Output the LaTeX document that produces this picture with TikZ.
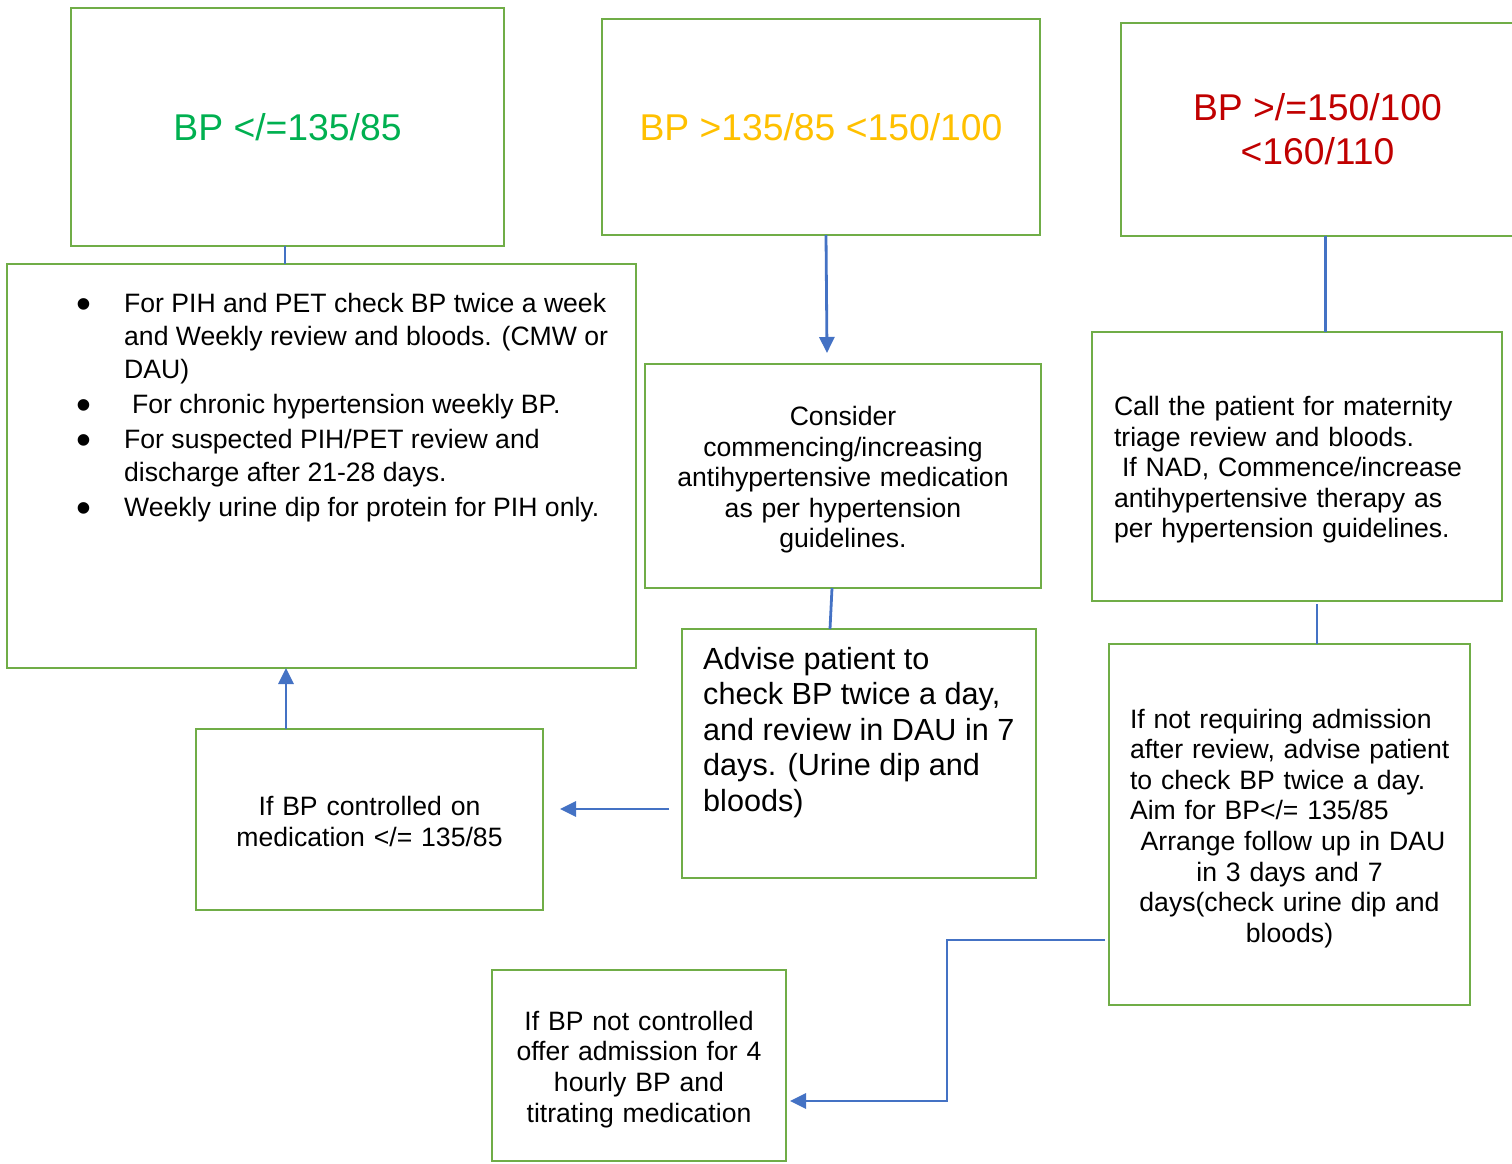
\documentclass[tikz,border=0pt]{standalone}
\usepackage{fontspec}
\usepackage{array}
\setmainfont{Liberation Sans}
\usetikzlibrary{arrows.meta,positioning}
\definecolor{boxgreen}{HTML}{70AD47}
\definecolor{linkblue}{HTML}{4472C4}
\definecolor{okgreen}{HTML}{00B050}
\definecolor{midamber}{HTML}{FFC000}
\definecolor{highred}{HTML}{C00000}
\tikzset{box/.style={draw=boxgreen, line width=2.8pt, inner sep=0pt, outer sep=0pt},
  link/.style={draw=linkblue, line width=2.8pt},
  arrowed/.style={-{Triangle[length=16pt,width=15pt]}},
  title/.style={font=\fontsize{37.3}{44}\selectfont, align=center},
  body/.style={font=\fontsize{26.6}{30.6}\selectfont},
  nudge/.style={execute at begin node={\rule{0pt}{#1}}}}
\newcommand{\bpdot}{\smash{\raisebox{-5.5pt}{\scalebox{1.6}{\textbullet}}}}
\newcommand{\fupline}[1]{\makebox[319pt][l]{#1}}

\begin{document}
\begin{tikzpicture}[x=1pt, y=-1pt]
  \useasboundingbox (0,0) rectangle (1512,1163);
  % BP bands
  \node[box, title, text=okgreen, minimum width=433pt, minimum height=238pt] (low) at (287.5,127) {BP </=135/85};
  \node[box, title, text=midamber, minimum width=438pt, minimum height=216pt] (mid) at (821,127) {BP >135/85 <150/100};
  \node[box, title, text=highred, minimum width=393pt, minimum height=213pt] (high) at (1317.5,129.5) {BP >/=150/100\\<160/110};
  % actions
  \node[box, minimum width=629pt, minimum height=404pt] (plan) at (321.5,466) {};
  \node[anchor=north west, inner sep=0pt, font=\fontsize{26.6}{33}\selectfont] (plantext) at ([shift={(69,25.5)}]plan.north west) {%
    \begin{tabular}{@{}p{48pt}@{}>{\raggedright\arraybackslash}p{500pt}@{}}
      \bpdot & For PIH and PET check BP twice a week\newline and Weekly review and bloods. (CMW or\newline DAU)\\\noalign{\vskip2pt}
      \bpdot & \hspace*{8pt}For chronic hypertension weekly BP.\\\noalign{\vskip2pt}
      \bpdot & For suspected PIH/PET review and\newline discharge after 21-28 days.\\\noalign{\vskip2pt}
      \bpdot & Weekly urine dip for protein for PIH only.
    \end{tabular}};
  \node[box, body, nudge=27pt, align=center, text width=390pt, minimum width=396pt, minimum height=224pt] (consider) at (843,476) {Consider\\commencing/increasing\\antihypertensive medication\\as per hypertension\\guidelines.};
  \node[box, body, nudge=26pt, align=left, text width=366pt, minimum width=410pt, minimum height=269pt] (call) at (1297,466.5) {Call the patient for maternity\\triage review and bloods.\\\hspace*{8pt}If NAD, Commence/increase\\antihypertensive therapy as\\per hypertension guidelines.};
  \node[box, minimum width=354pt, minimum height=249pt] (advise) at (859,753.5) {};
  \node[anchor=north west, inner sep=0pt, align=left, font=\fontsize{30.6}{35.5}\selectfont] (advisetext) at ([shift={(21,18)}]advise.north west) {Advise patient to\\check BP twice a day,\\and review in DAU in 7\\days. (Urine dip and\\bloods)};
  \node[box, body, nudge=23.5pt, align=center, text width=340pt, minimum width=347pt, minimum height=181pt] (controlled) at (369.5,819.5) {If BP controlled on\\medication </= 135/85};
  \node[box, body, nudge=27pt, align=center, text width=319pt, minimum width=361pt, minimum height=361pt] (followup) at (1289.5,824.5) {\fupline{If not requiring admission}\\\fupline{after review, advise patient}\\\fupline{to check BP twice a day.}\\\fupline{Aim for BP</= 135/85}\\\hspace*{7pt}Arrange follow up in DAU\\in 3 days and 7\\days(check urine dip and\\bloods)};
  \node[box, body, nudge=27pt, align=center, text width=288pt, minimum width=294pt, minimum height=191pt] (admit) at (639,1065.5) {If BP not controlled\\offer admission for 4\\hourly BP and\\titrating medication};
  % Links
  \coordinate (midtip) at (827,353);
  \coordinate (advtail) at (669,809); \coordinate (advtip) at (560,809);
  \coordinate (fuptail) at (1105,940); \coordinate (elbow) at (947,1101); \coordinate (admtip) at (790,1101);
  \draw[link] ([xshift=-2.5pt]low.south) coordinate (l1) -- (l1 |- plan.north);
  \draw[link, arrowed] ([xshift=5pt]mid.south) -- (midtip);
  \draw[link] ([xshift=8pt]high.south) coordinate (h1) -- (h1 |- call.north);
  \draw[link] ([xshift=-11pt]consider.south) -- ([xshift=-29pt]advise.north);
  \draw[link] ([xshift=20pt,yshift=-3pt]call.south) coordinate (c1) -- (c1 |- followup.north);
  \draw[link, arrowed] ([xshift=-83.5pt]controlled.north) coordinate (k1) -- (k1 |- plan.south);
  \draw[link, arrowed] (advtail) -- (advtip);
  \draw[link, arrowed] (fuptail) -| (elbow) -- (admtip);
\end{tikzpicture}
\end{document}
